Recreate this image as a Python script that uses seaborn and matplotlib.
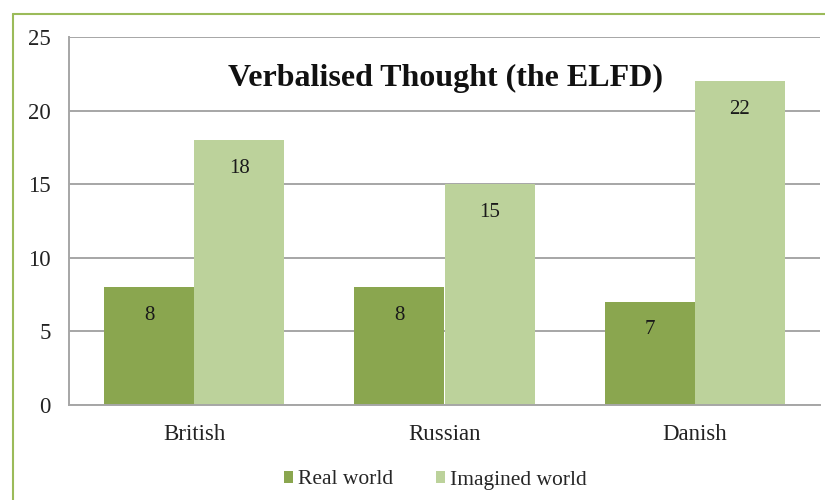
import matplotlib
matplotlib.use("Agg")
import matplotlib.pyplot as plt
from matplotlib.lines import Line2D
from matplotlib.patches import Patch
import seaborn as sns
import pandas as pd

categories = ["British", "Russian", "Danish"]
series_names = ["Real world", "Imagined world"]
real_world = [8, 8, 7]
imagined_world = [18, 15, 22]
y_ticks = [0, 5, 10, 15, 20, 25]
title = "Verbalised Thought (the ELFD)"

colors = ["#8aa64f", "#bcd29b"]

df = pd.DataFrame({
    "group": categories * 2,
    "series": [series_names[0]] * 3 + [series_names[1]] * 3,
    "value": real_world + imagined_world,
})

sns.set_theme(style="white")
plt.rcParams["font.family"] = ["Liberation Serif", "DejaVu Serif"]

fig = plt.figure(figsize=(8.25, 5), dpi=100)
ax = fig.add_axes([69 / 825, 1 - 405 / 500, (820 - 69) / 825, (405 - 37) / 500])

sns.barplot(data=df, x="group", y="value", hue="series", order=categories,
            hue_order=series_names, palette=colors, width=0.72, gap=0,
            saturation=1, linewidth=0, ax=ax, legend=False)

ax.set_ylim(0, 25)
ax.set_xlim(-0.5, 2.5)
ax.set_yticks(y_ticks)
ax.set_yticklabels([str(t) for t in y_ticks], fontsize=16.5, color="#222222")
ax.tick_params(axis="x", labelsize=16.5, colors="#222222", length=0, pad=14)
ax.tick_params(axis="y", length=0, pad=13)
ax.set_xlabel("")
ax.set_ylabel("")
ax.yaxis.grid(True, color="#a6a6a6", linewidth=1.4)
ax.set_axisbelow(True)
for side in ["top", "right"]:
    ax.spines[side].set_visible(False)
for side in ["left", "bottom"]:
    ax.spines[side].set_color("#a6a6a6")
    ax.spines[side].set_linewidth(1.4)

# value labels just below each bar's top edge
for container in ax.containers:
    ax.bar_label(container, fmt="%d", label_type="edge", padding=-27,
                 fontsize=15, color="#1a1a1a")

ax.text(0.5007, 0.886, title, transform=ax.transAxes, ha="center", va="center",
        fontsize=23, fontweight="bold", color="#111111")

handles = [Patch(facecolor=c, edgecolor="none") for c in colors]
fig.legend(handles, series_names, loc="center", bbox_to_anchor=(435 / 825, 1 - 480 / 500),
           ncol=2, frameon=False, fontsize=15.5, handlelength=0.45, handleheight=0.45,
           handletextpad=0.2, columnspacing=2.0)

# outer chart frame (top and left edges visible)
fig.add_artist(Line2D([12.5 / 825, 12.5 / 825], [0, 1 - 13.5 / 500],
                      transform=fig.transFigure, color="#9bbb59", linewidth=1.5))
fig.add_artist(Line2D([12.5 / 825, 1], [1 - 13.5 / 500, 1 - 13.5 / 500],
                      transform=fig.transFigure, color="#9bbb59", linewidth=1.5))

fig.savefig("out.png", dpi=100)
